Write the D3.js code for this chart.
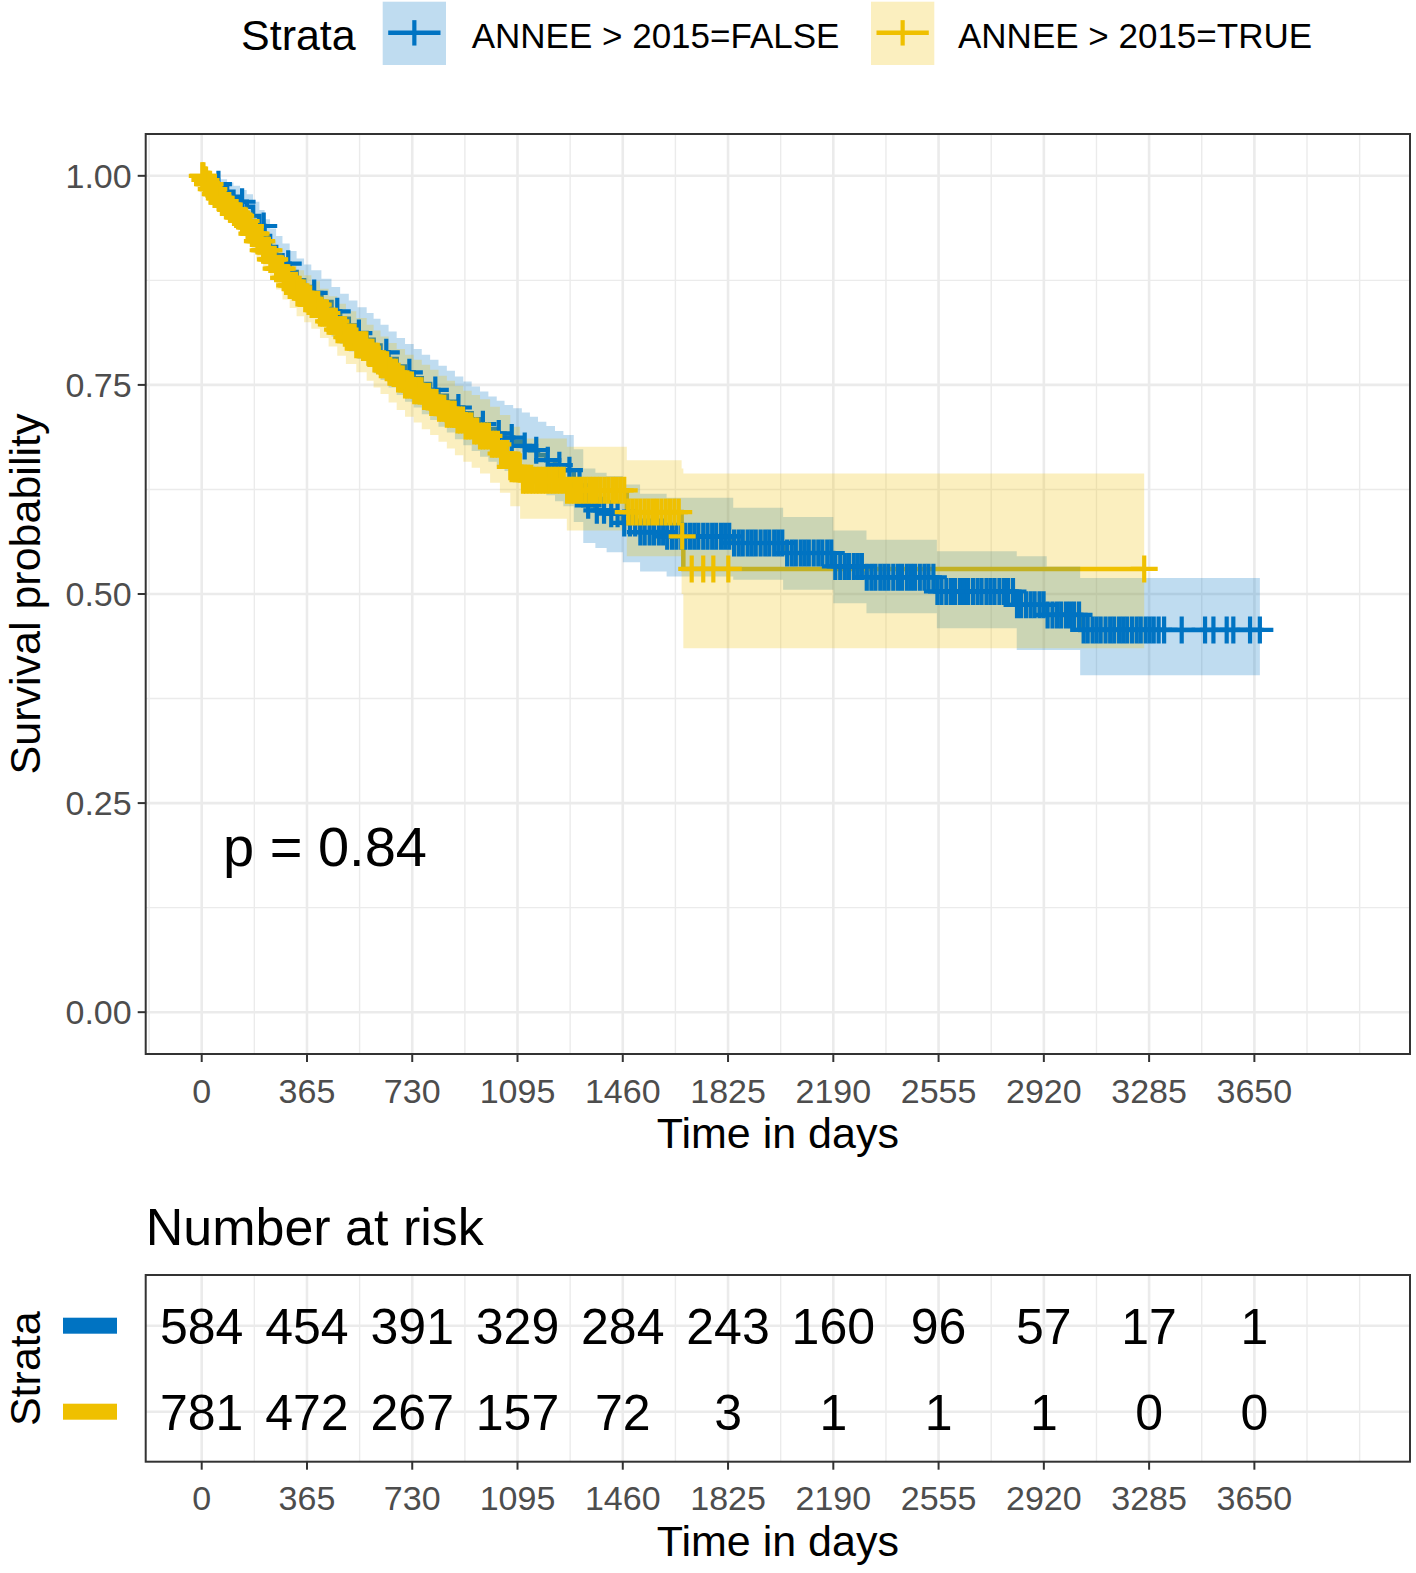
<!DOCTYPE html>
<html><head><meta charset="utf-8">
<script src="https://cdn.jsdelivr.net/npm/d3@7"></script>
<style>html,body{margin:0;padding:0;background:#fff;} svg{display:block;font-family:"Liberation Sans",Arial,Helvetica,sans-serif;}</style>
</head><body><svg id="chart" width="1416" height="1573"></svg>
<script>
// ---------------- DATA ----------------
const strataLabels = ["ANNEE > 2015=FALSE", "ANNEE > 2015=TRUE"];
const strataKeys = ["FALSE", "TRUE"];
const strataColors = ["#0073C2", "#EFC000"];

// Stratum ANNEE > 2015 = FALSE (blue)
const blueTime  = [0, 15, 30, 48, 66, 88, 110, 133, 156, 178, 200, 218, 237, 258, 280, 305, 329, 355, 380, 415, 450, 480, 510, 540, 572, 596, 620, 648, 676, 705, 735, 763, 792, 821, 850, 878, 907, 936, 965, 994, 1023, 1050, 1080, 1110, 1138, 1166, 1195, 1225, 1254, 1290, 1323, 1365, 1404, 1460, 1520, 1612, 1843, 2016, 2190, 2305, 2549, 2826, 2930, 3046];
const blueSurv  = [1.000, 0.997, 0.994, 0.990, 0.986, 0.981, 0.975, 0.969, 0.963, 0.952, 0.940, 0.928, 0.915, 0.905, 0.895, 0.885, 0.875, 0.867, 0.860, 0.849, 0.838, 0.829, 0.821, 0.812, 0.804, 0.797, 0.789, 0.781, 0.772, 0.765, 0.758, 0.751, 0.744, 0.737, 0.730, 0.723, 0.716, 0.709, 0.703, 0.697, 0.692, 0.687, 0.682, 0.677, 0.672, 0.666, 0.660, 0.654, 0.648, 0.630, 0.606, 0.600, 0.596, 0.585, 0.574, 0.569, 0.561, 0.549, 0.533, 0.520, 0.503, 0.487, 0.475, 0.457];
const blueUpper = [1.000, 1.000, 1.000, 0.998, 0.996, 0.992, 0.988, 0.983, 0.978, 0.969, 0.959, 0.948, 0.937, 0.928, 0.919, 0.910, 0.901, 0.894, 0.887, 0.877, 0.867, 0.859, 0.851, 0.843, 0.836, 0.829, 0.822, 0.814, 0.806, 0.799, 0.793, 0.786, 0.780, 0.773, 0.767, 0.760, 0.754, 0.748, 0.742, 0.736, 0.731, 0.726, 0.722, 0.717, 0.712, 0.706, 0.701, 0.695, 0.690, 0.673, 0.650, 0.645, 0.641, 0.631, 0.620, 0.615, 0.603, 0.592, 0.576, 0.565, 0.551, 0.545, 0.533, 0.519];
const blueLower = [1.000, 0.992, 0.987, 0.981, 0.976, 0.968, 0.961, 0.953, 0.946, 0.933, 0.920, 0.906, 0.892, 0.881, 0.870, 0.859, 0.848, 0.840, 0.832, 0.820, 0.808, 0.799, 0.790, 0.781, 0.772, 0.764, 0.756, 0.747, 0.738, 0.730, 0.723, 0.715, 0.708, 0.700, 0.693, 0.685, 0.678, 0.671, 0.664, 0.658, 0.652, 0.647, 0.642, 0.636, 0.631, 0.624, 0.618, 0.611, 0.605, 0.586, 0.561, 0.555, 0.550, 0.538, 0.527, 0.521, 0.517, 0.505, 0.489, 0.477, 0.459, 0.433, 0.433, 0.403];
const blueEnd = 3669;
const blueCensor = [58, 140, 215, 300, 390, 470, 545, 640, 720, 810, 890, 975, 1030, 1075, 1120, 1160, 1200, 1240, 1275, 1310, 1340, 1370, 1395, 1420, 1442, 1465, 1485, 1503, 1521, 1536, 1553, 1568, 1585, 1600, 1614, 1631, 1646, 1663, 1677, 1693, 1708, 1722, 1739, 1754, 1770, 1784, 1801, 1815, 1829, 1846, 1862, 1876, 1893, 1907, 1921, 1938, 1954, 1968, 1985, 1999, 2013, 2030, 2046, 2060, 2077, 2091, 2105, 2122, 2138, 2152, 2169, 2183, 2197, 2214, 2230, 2244, 2261, 2275, 2289, 2306, 2322, 2336, 2353, 2367, 2381, 2398, 2414, 2428, 2445, 2459, 2473, 2490, 2506, 2520, 2537, 2551, 2565, 2582, 2598, 2612, 2629, 2643, 2657, 2674, 2690, 2704, 2721, 2735, 2749, 2766, 2782, 2796, 2813, 2827, 2841, 2858, 2874, 2888, 2905, 2919, 2933, 2950, 2966, 2980, 2997, 3011, 3025, 3042, 3058, 3072, 3089, 3103, 3117, 3134, 3150, 3164, 3181, 3195, 3209, 3226, 3242, 3256, 3273, 3287, 3301, 3318, 3337, 3398, 3479, 3508, 3554, 3577, 3635, 3669];

// Stratum ANNEE > 2015 = TRUE (yellow)
const yellowTime  = [0, 10, 20, 32, 45, 58, 70, 84, 98, 112, 125, 140, 156, 173, 190, 213, 237, 258, 280, 305, 329, 355, 380, 410, 440, 470, 500, 536, 572, 596, 620, 648, 676, 705, 735, 763, 792, 821, 850, 878, 907, 936, 965, 1000, 1034, 1070, 1104, 1266, 1474, 1664, 1670];
const yellowSurv  = [1.000, 0.995, 0.990, 0.984, 0.978, 0.973, 0.968, 0.964, 0.960, 0.956, 0.952, 0.946, 0.940, 0.931, 0.922, 0.911, 0.900, 0.889, 0.878, 0.869, 0.860, 0.853, 0.846, 0.836, 0.826, 0.816, 0.807, 0.798, 0.789, 0.781, 0.774, 0.765, 0.757, 0.750, 0.743, 0.736, 0.729, 0.722, 0.715, 0.708, 0.701, 0.695, 0.689, 0.679, 0.668, 0.652, 0.636, 0.624, 0.598, 0.569, 0.530];
const yellowUpper = [1.000, 1.000, 1.000, 0.996, 0.991, 0.987, 0.983, 0.980, 0.976, 0.972, 0.969, 0.964, 0.959, 0.951, 0.943, 0.933, 0.923, 0.913, 0.903, 0.895, 0.887, 0.881, 0.874, 0.865, 0.856, 0.847, 0.838, 0.830, 0.822, 0.815, 0.808, 0.800, 0.793, 0.786, 0.780, 0.774, 0.768, 0.761, 0.755, 0.749, 0.743, 0.738, 0.733, 0.724, 0.714, 0.700, 0.686, 0.676, 0.660, 0.650, 0.644];
const yellowLower = [1.000, 0.990, 0.983, 0.975, 0.966, 0.959, 0.953, 0.948, 0.944, 0.939, 0.935, 0.928, 0.921, 0.911, 0.901, 0.888, 0.876, 0.864, 0.852, 0.842, 0.832, 0.825, 0.817, 0.806, 0.796, 0.785, 0.775, 0.765, 0.755, 0.747, 0.739, 0.729, 0.720, 0.712, 0.705, 0.697, 0.690, 0.682, 0.674, 0.666, 0.658, 0.651, 0.644, 0.633, 0.621, 0.605, 0.590, 0.576, 0.545, 0.500, 0.435];
const yellowEnd = 3268;
const yellowCensor = [2, 6, 11, 15, 20, 24, 29, 33, 38, 42, 47, 51, 56, 61, 65, 70, 74, 79, 84, 88, 93, 98, 102, 107, 112, 116, 121, 126, 131, 135, 140, 145, 150, 154, 159, 164, 169, 174, 178, 183, 188, 193, 198, 203, 208, 213, 218, 223, 228, 233, 238, 243, 248, 253, 258, 264, 269, 274, 279, 284, 290, 295, 300, 305, 311, 316, 321, 327, 332, 337, 343, 348, 354, 359, 365, 370, 376, 381, 387, 393, 398,
  404, 410, 416, 422, 428, 434, 440, 446, 452, 458, 465, 471, 477, 484, 490, 497, 503, 510, 516, 523, 530, 536, 543, 550, 557, 564, 571, 578, 585, 592, 599, 606, 614, 621, 628, 636, 643, 651, 658, 666, 674, 681, 689, 697, 705, 713, 721, 729, 737, 746, 754, 762, 771, 779, 788, 796, 805, 814, 823, 832, 841, 850, 859, 868, 877, 887, 896, 906, 915, 925, 935, 945, 955, 965, 975, 985, 996,
  1006, 1016, 1027, 1038, 1048, 1059, 1070, 1081, 1092, 1103, 1114, 1125, 1137, 1148, 1160, 1171, 1183, 1195, 1207, 1219, 1231, 1243, 1255, 1267, 1280, 1292, 1305, 1318, 1331, 1344, 1357, 1370, 1383, 1397, 1410, 1424, 1437, 1451, 1465, 1479, 1493, 1507, 1521, 1536, 1550, 1565, 1579, 1594, 1609, 1624, 1639, 1654, 1666,
  1699, 1739, 1774, 1826, 3268];

const breakTimes = [0, 365, 730, 1095, 1460, 1825, 2190, 2555, 2920, 3285, 3650];
const minorTimes = [-182.5, 182.5, 547.5, 912.5, 1277.5, 1642.5, 2007.5, 2372.5, 2737.5, 3102.5, 3467.5, 3832.5, 4015];
const yBreaks = [0, 0.25, 0.5, 0.75, 1.0];
const yMinor = [0.125, 0.375, 0.625, 0.875];
const riskFalse = [584, 454, 391, 329, 284, 243, 160, 96, 57, 17, 1];
const riskTrue  = [781, 472, 267, 157, 72, 3, 1, 1, 1, 0, 0];
const pLabel = "p = 0.84";

// ---------------- LAYOUT ----------------
const svg = d3.select("#chart");
const P = {l: 145.7, r: 1410, t: 134, b: 1054};
const R = {l: 145.7, r: 1410, t: 1275, b: 1461.7};
const x = d3.scaleLinear().domain([-194.2, 4189.6]).range([P.l, P.r]);
const y = d3.scaleLinear().domain([-0.05, 1.05]).range([P.b, P.t]);
const yR = d3.scalePoint().domain(strataKeys).range([1325.7, 1411.7]);
const gridCol = "#EBEBEB", borderCol = "#333333", tickTxt = "#4D4D4D";
const ribbonAlpha = 0.25;

const series = [
  {time: blueTime, surv: blueSurv, up: blueUpper, lo: blueLower, end: blueEnd, cens: blueCensor, col: strataColors[0]},
  {time: yellowTime, surv: yellowSurv, up: yellowUpper, lo: yellowLower, end: yellowEnd, cens: yellowCensor, col: strataColors[1]}
];
function idxAt(times, t){ let k = 0; for (let i = 0; i < times.length; i++) if (times[i] <= t) k = i; return k; }

// ---------- main panel ----------
svg.append("defs").append("clipPath").attr("id","clipMain").append("rect")
  .attr("x",P.l).attr("y",P.t).attr("width",P.r-P.l).attr("height",P.b-P.t);
svg.append("rect").attr("x",P.l).attr("y",P.t).attr("width",P.r-P.l).attr("height",P.b-P.t).attr("fill","#fff");
const gGrid = svg.append("g").attr("clip-path","url(#clipMain)");
gGrid.selectAll(".vmin").data(minorTimes).join("line").attr("x1",d=>x(d)).attr("x2",d=>x(d)).attr("y1",P.t).attr("y2",P.b).attr("stroke",gridCol).attr("stroke-width",1.4);
gGrid.selectAll(".hmin").data(yMinor).join("line").attr("y1",d=>y(d)).attr("y2",d=>y(d)).attr("x1",P.l).attr("x2",P.r).attr("stroke",gridCol).attr("stroke-width",1.4);
gGrid.selectAll(".vmaj").data(breakTimes).join("line").attr("x1",d=>x(d)).attr("x2",d=>x(d)).attr("y1",P.t).attr("y2",P.b).attr("stroke",gridCol).attr("stroke-width",2.6);
gGrid.selectAll(".hmaj").data(yBreaks).join("line").attr("y1",d=>y(d)).attr("y2",d=>y(d)).attr("x1",P.l).attr("x2",P.r).attr("stroke",gridCol).attr("stroke-width",2.6);

const gData = svg.append("g").attr("clip-path","url(#clipMain)");
const line = d3.line().x(d=>x(d[0])).y(d=>y(d[1])).curve(d3.curveStepAfter);
const area = d3.area().x(d=>x(d[0])).y0(d=>y(d[1])).y1(d=>y(d[2])).curve(d3.curveStepAfter);
// survival lines (drawn first, ribbons over them, as in the reference)
series.forEach(s=>{
  const pts = s.time.map((t,i)=>[t, s.surv[i]]); pts.push([s.end, s.surv[s.surv.length-1]]);
  gData.append("path").attr("d", line(pts)).attr("fill","none").attr("stroke",s.col).attr("stroke-width",4.5);
});
// confidence ribbons
series.forEach(s=>{
  const pts = s.time.map((t,i)=>[t, s.lo[i], s.up[i]]); pts.push([s.end, s.lo[s.lo.length-1], s.up[s.up.length-1]]);
  gData.append("path").attr("d", area(pts)).attr("fill",s.col).attr("fill-opacity",ribbonAlpha).attr("stroke","none");
});
// censor marks
const arm = 13.5;
series.forEach(s=>{
  gData.append("g").selectAll("path").data(s.cens).join("path")
    .attr("d", t=>{ const cx = x(t), cy = y(s.surv[idxAt(s.time,t)]); return `M${cx-arm},${cy}H${cx+arm}M${cx},${cy-arm}V${cy+arm}`; })
    .attr("stroke", s.col).attr("stroke-width",4.2).attr("fill","none");
});
svg.append("rect").attr("x",P.l).attr("y",P.t).attr("width",P.r-P.l).attr("height",P.b-P.t).attr("fill","none").attr("stroke",borderCol).attr("stroke-width",2);

// axes main
const gAx = svg.append("g");
gAx.selectAll(".yt").data(yBreaks).join("line").attr("x1",P.l-8).attr("x2",P.l).attr("y1",d=>y(d)).attr("y2",d=>y(d)).attr("stroke",borderCol).attr("stroke-width",2);
gAx.selectAll(".yl").data(yBreaks).join("text").attr("x",P.l-14).attr("y",d=>y(d)+12).attr("text-anchor","end").attr("font-size",34).attr("fill",tickTxt).text(d=>d3.format(".2f")(d));
gAx.selectAll(".xt").data(breakTimes).join("line").attr("x1",d=>x(d)).attr("x2",d=>x(d)).attr("y1",P.b).attr("y2",P.b+8).attr("stroke",borderCol).attr("stroke-width",2);
gAx.selectAll(".xl").data(breakTimes).join("text").attr("x",d=>x(d)).attr("y",1103).attr("text-anchor","middle").attr("font-size",34).attr("fill",tickTxt).text(d=>d);
svg.append("text").attr("x",(P.l+P.r)/2).attr("y",1148).attr("text-anchor","middle").attr("font-size",43).attr("fill","#000").text("Time in days");
svg.append("text").attr("transform","translate(40,594) rotate(-90)").attr("text-anchor","middle").attr("font-size",43).attr("fill","#000").text("Survival probability");
svg.append("text").attr("x",223).attr("y",866).attr("font-size",56).attr("fill","#000").text(pLabel);

// ---------- legend ----------
const gLeg = svg.append("g");
gLeg.append("text").attr("x",241).attr("y",50).attr("font-size",43).attr("fill","#000").text("Strata");
const keyX = [382.7, 871], labX = [471.7, 958];
strataLabels.forEach((lab,i)=>{
  const kx = keyX[i], ky = 1.7, ks = 63.3, cy = ky + ks/2 - 0.5;
  gLeg.append("rect").attr("x",kx).attr("y",ky).attr("width",ks).attr("height",ks).attr("fill",strataColors[i]).attr("fill-opacity",ribbonAlpha);
  gLeg.append("line").attr("x1",kx+5.5).attr("x2",kx+ks-5.5).attr("y1",cy).attr("y2",cy).attr("stroke",strataColors[i]).attr("stroke-width",4.5);
  gLeg.append("line").attr("x1",kx+ks/2).attr("x2",kx+ks/2).attr("y1",cy-12.7).attr("y2",cy+12.7).attr("stroke",strataColors[i]).attr("stroke-width",4.2);
  gLeg.append("text").attr("x",labX[i]).attr("y",48).attr("font-size",35).attr("fill","#000").text(lab);
});

// ---------- risk table ----------
svg.append("text").attr("x",145.7).attr("y",1245).attr("font-size",52).attr("fill","#000").text("Number at risk");
svg.append("rect").attr("x",R.l).attr("y",R.t).attr("width",R.r-R.l).attr("height",R.b-R.t).attr("fill","#fff");
const gRG = svg.append("g");
gRG.selectAll(".rvm").data(minorTimes.filter(d=>d>0)).join("line").attr("x1",d=>x(d)).attr("x2",d=>x(d)).attr("y1",R.t).attr("y2",R.b).attr("stroke",gridCol).attr("stroke-width",1.4);
gRG.selectAll(".rv").data(breakTimes).join("line").attr("x1",d=>x(d)).attr("x2",d=>x(d)).attr("y1",R.t).attr("y2",R.b).attr("stroke",gridCol).attr("stroke-width",2.6);
gRG.selectAll(".rh").data(strataKeys).join("line").attr("x1",R.l).attr("x2",R.r).attr("y1",d=>yR(d)).attr("y2",d=>yR(d)).attr("stroke",gridCol).attr("stroke-width",2.6);
const riskRows = [riskFalse, riskTrue];
riskRows.forEach((row,i)=>{
  svg.append("g").selectAll("text").data(row).join("text")
    .attr("x",(d,j)=>x(breakTimes[j])).attr("y",yR(strataKeys[i])+18).attr("text-anchor","middle").attr("font-size",50).attr("fill","#000").text(d=>d);
  svg.append("rect").attr("x",63).attr("y",yR(strataKeys[i])-8).attr("width",54).attr("height",16).attr("fill",strataColors[i]);
});
svg.append("rect").attr("x",R.l).attr("y",R.t).attr("width",R.r-R.l).attr("height",R.b-R.t).attr("fill","none").attr("stroke",borderCol).attr("stroke-width",2);
svg.append("g").selectAll("line").data(breakTimes).join("line").attr("x1",d=>x(d)).attr("x2",d=>x(d)).attr("y1",R.b).attr("y2",R.b+8).attr("stroke",borderCol).attr("stroke-width",2);
svg.append("g").selectAll("text").data(breakTimes).join("text").attr("x",d=>x(d)).attr("y",1510).attr("text-anchor","middle").attr("font-size",34).attr("fill",tickTxt).text(d=>d);
svg.append("text").attr("x",(R.l+R.r)/2).attr("y",1556).attr("text-anchor","middle").attr("font-size",43).attr("fill","#000").text("Time in days");
svg.append("text").attr("transform",`translate(40,${(yR("FALSE")+yR("TRUE"))/2}) rotate(-90)`).attr("text-anchor","middle").attr("font-size",43).attr("fill","#000").text("Strata");
</script></body></html>
